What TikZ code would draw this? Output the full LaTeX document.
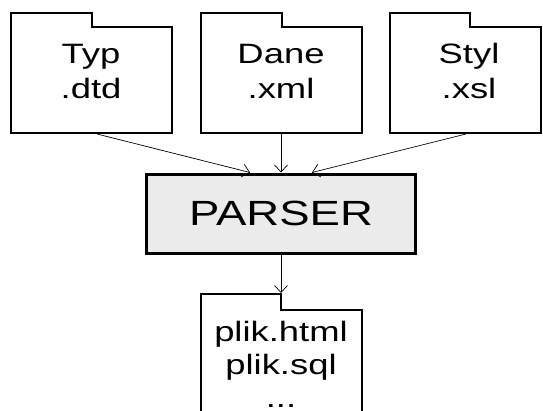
\documentclass[tikz,border=0pt]{standalone}
\usepackage{fontspec}
\usetikzlibrary{arrows.meta}
\newfontfamily\arialw[FakeStretch=1.3]{Liberation Sans}
\definecolor{boxgray}{HTML}{EBEBEB}
\tikzset{
  folder/.style={draw=black, line width=2pt, line join=miter},
  ftext/.style={font=\arialw\fontsize{28}{34}\selectfont, anchor=base, inner sep=0pt},
  ptext/.style={font=\arialw\fontsize{35}{42}\selectfont, anchor=base, inner sep=0pt},
  parserbox/.style={draw=black, fill=boxgray, line width=3.3pt, minimum width=269pt, minimum height=79pt, inner sep=0pt},
  conn/.style={draw=black, line width=0.7pt, -{Straight Barb[length=7pt,width=13pt,line width=0.7pt]}}
}
\begin{document}
\begin{tikzpicture}[x=1pt,y=-1pt]
\useasboundingbox (0,0) rectangle (543,410);
\clip (0,0) rectangle (543,410);
\fill[white] (0,0) rectangle (543,410);
% folders
\draw[folder] (11,13) -- (92,13) -- (92,27) -- (172,27) -- (172,133) -- (11,133) -- cycle;
\draw[folder] (201,13) -- (282,13) -- (282,27) -- (362,27) -- (362,133) -- (201,133) -- cycle;
\draw[folder] (390,13) -- (470,13) -- (470,27) -- (541,27) -- (541,133) -- (390,133) -- cycle;
\draw[folder] (201,430) -- (201,294) -- (281,294) -- (281,310) -- (362,310) -- (362,430);
% texts
\node[ftext] (t1a) at (91,63) {Typ};
\node[ftext] (t1b) at (91,98) {.dtd};
\node[ftext] (t2a) at (281,63) {Dane};
\node[ftext] (t2b) at (281,98) {.xml};
\node[ftext] (t3a) at (469,63) {Styl};
\node[ftext] (t3b) at (469,98) {.xsl};
\node[ftext] (t4a) at (281,341) {plik.html};
\node[ftext] (t4b) at (281,374) {plik.sql};
\node[ftext] (t4c) at (281,407) {...};
% parser
\node[parserbox] (parser) at (281,214) {};
\node[ptext] (ptxt) at (281,225) {PARSER};
% connector endpoints
\coordinate (f1) at (97,134);
\coordinate (f2) at (281,134);
\coordinate (f3) at (466,134);
\coordinate (p1) at (250,172.5);
\coordinate (p2) at (281,172.5);
\coordinate (p3) at (312,172.5);
\coordinate (f4) at (281,293);
\draw[conn] (f1) -- (p1);
\draw[conn] (f2) -- (p2);
\draw[conn] (f3) -- (p3);
\draw[conn] (parser.south) -- (f4);
\end{tikzpicture}
\end{document}
